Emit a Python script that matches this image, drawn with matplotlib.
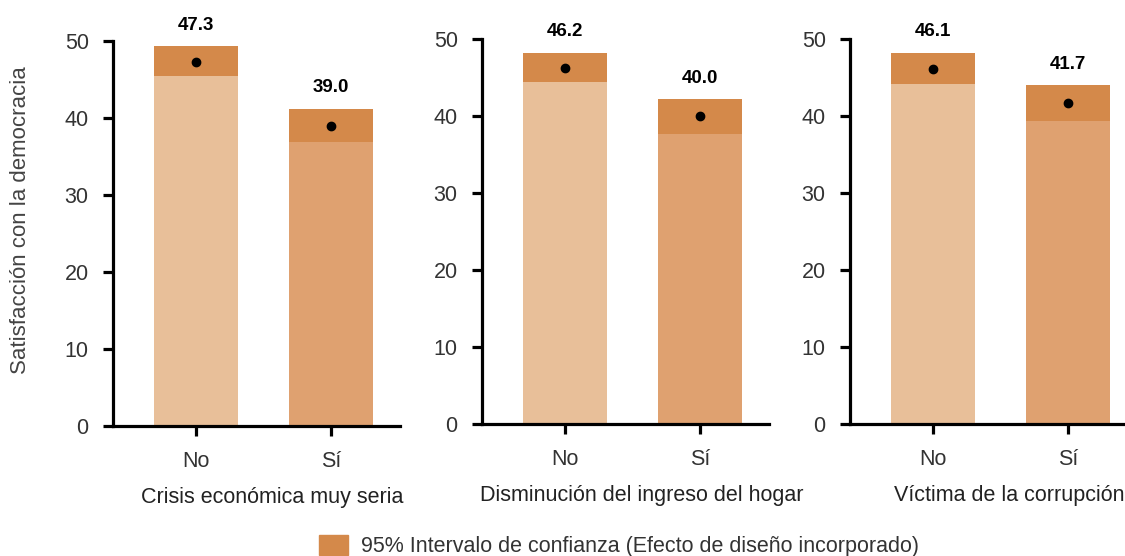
import matplotlib.pyplot as plt
from matplotlib.patches import Patch

plt.rcParams["font.family"] = ["Liberation Sans", "DejaVu Sans"]

# data
panels = ["Crisis económica muy seria", "Disminución del ingreso del hogar", "Víctima de la corrupción"]
groups = ["No", "Sí"]
means = [[47.3, 39.0], [46.2, 40.0], [46.1, 41.7]]
ci_low = [[45.4, 36.9], [44.4, 37.6], [44.2, 39.4]]
ci_high = [[49.3, 41.2], [48.2, 42.2], [48.2, 44.0]]

bar_colors = ["#e8bf99", "#dfa170"]
ci_color = "#d4894a"
text_gray = "#333333"

fig = plt.figure(figsize=(11.25, 5.56), dpi=100)

lefts = [113, 482, 850]
bottoms = [426, 424, 424]
tops = [41, 39, 39]
xlim = (-0.615, 1.511)

for i in range(3):
    b = 1 - bottoms[i] / 556
    h = (bottoms[i] - tops[i]) / 556
    ax = fig.add_axes([lefts[i] / 1125, b, 287 / 1125, h])
    x = [0, 1]

    ax.bar(x, ci_low[i], width=0.622, color=bar_colors)
    heights = [ci_high[i][j] - ci_low[i][j] for j in range(2)]
    ax.bar(x, heights, bottom=ci_low[i], width=0.622, color=ci_color)
    ax.plot(x, means[i], "o", color="black", markersize=6, zorder=5)

    for j in range(2):
        ax.annotate(f"{means[i][j]:.1f}", (x[j], ci_high[i][j]), xytext=(0, 9),
                    textcoords="offset points", ha="center", va="bottom",
                    fontsize=13.5, fontweight="bold", annotation_clip=False)

    ax.set_xlim(*xlim)
    ax.set_ylim(0, 50)
    ax.set_yticks([0, 10, 20, 30, 40, 50])
    ax.set_xticks(x)
    ax.set_xticklabels(groups)

    for s in ["top", "right"]:
        ax.spines[s].set_visible(False)
    for s in ["left", "bottom"]:
        ax.spines[s].set_linewidth(2.3)
    ax.tick_params(axis="both", width=2.3, length=7, labelsize=15.5,
                   labelcolor=text_gray)
    ax.tick_params(axis="y", pad=10.5)
    ax.tick_params(axis="x", pad=11)

    # x label sits a bit right of the bar pair's midpoint
    ax.set_xlabel(panels[i], fontsize=15.5, color="#222222", labelpad=11)
    ax.xaxis.label.set_x((0.565 - xlim[0]) / (xlim[1] - xlim[0]))

    if i == 0:
        ax.set_ylabel("Satisfacción con la democracia", fontsize=16,
                      color="#444444", labelpad=24)
        ax.yaxis.label.set_y(0.535)

fig.legend(handles=[Patch(color=ci_color)],
           labels=["95% Intervalo de confianza (Efecto de diseño incorporado)"],
           loc="center left", bbox_to_anchor=(300 / 1125, 1 - 546 / 556),
           frameon=False, fontsize=15.5, handlelength=1.35, handleheight=1.1,
           handletextpad=0.6, labelcolor=text_gray)

fig.savefig("out.png", dpi=100)
